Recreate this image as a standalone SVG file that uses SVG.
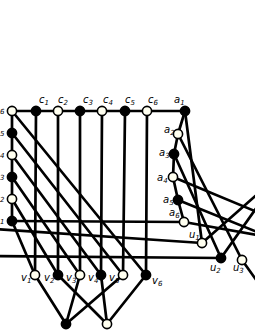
<svg xmlns="http://www.w3.org/2000/svg" width="255" height="330" viewBox="0 0 255 330">
<style>
.e{stroke:#000;stroke-width:2.7;fill:none;stroke-linecap:round}
.w{fill:#fffff0;stroke:#000;stroke-width:1.6}
.b{fill:#000;stroke:#000;stroke-width:1.6}
text{font-family:"DejaVu Sans",sans-serif;font-style:italic;font-size:10px;fill:#000}
.s{font-size:7px}
</style>
<rect width="255" height="330" fill="#fff"/>
<g id="edges">
<line class="e" x1="12" y1="111" x2="185" y2="111"/>
<line class="e" x1="12" y1="111" x2="12" y2="221"/>
<line class="e" x1="36" y1="111" x2="35" y2="275"/>
<line class="e" x1="58" y1="111" x2="58" y2="275"/>
<line class="e" x1="80" y1="111" x2="80" y2="275"/>
<line class="e" x1="102" y1="111" x2="101" y2="275"/>
<line class="e" x1="125" y1="111" x2="123" y2="275"/>
<line class="e" x1="147" y1="111" x2="146" y2="275"/>
<line class="e" x1="12" y1="111" x2="146" y2="275"/>
<line class="e" x1="12" y1="133" x2="123" y2="275"/>
<line class="e" x1="12" y1="155" x2="101" y2="275"/>
<line class="e" x1="12" y1="177" x2="80" y2="275"/>
<line class="e" x1="12" y1="199" x2="58" y2="275"/>
<line class="e" x1="12" y1="221" x2="35" y2="275"/>
<line class="e" x1="35" y1="275" x2="66" y2="324"/>
<line class="e" x1="80" y1="275" x2="66" y2="324"/>
<line class="e" x1="123" y1="275" x2="66" y2="324"/>
<line class="e" x1="58" y1="275" x2="107" y2="324"/>
<line class="e" x1="101" y1="275" x2="107" y2="324"/>
<line class="e" x1="146" y1="275" x2="107" y2="324"/>
<line class="e" x1="12" y1="221" x2="184" y2="222"/>
<line class="e" x1="-5" y1="229" x2="202" y2="243"/>
<line class="e" x1="-5" y1="256" x2="221" y2="258"/>
<line class="e" x1="185" y1="111" x2="178" y2="134"/>
<line class="e" x1="178" y1="134" x2="174" y2="154"/>
<line class="e" x1="174" y1="154" x2="173" y2="177"/>
<line class="e" x1="173" y1="177" x2="178" y2="200"/>
<line class="e" x1="178" y1="200" x2="184" y2="222"/>
<line class="e" x1="185" y1="111" x2="202" y2="243"/>
<line class="e" x1="178" y1="134" x2="242" y2="260"/>
<line class="e" x1="174" y1="154" x2="221" y2="258"/>
<line class="e" x1="173" y1="177" x2="262" y2="214"/>
<line class="e" x1="178" y1="200" x2="262" y2="234"/>
<line class="e" x1="184" y1="222" x2="262" y2="236"/>
<line class="e" x1="202" y1="243" x2="262" y2="190"/>
<line class="e" x1="221" y1="258" x2="262" y2="200"/>
<line class="e" x1="242" y1="260" x2="262" y2="288"/>
</g>
<g id="b6"><circle class="w" cx="12" cy="111" r="4.6"/><text class="s" x="0" y="114">6</text></g>
<g id="b5"><circle class="b" cx="12" cy="133" r="4.6"/><text class="s" x="0" y="136">5</text></g>
<g id="b4"><circle class="w" cx="12" cy="155" r="4.6"/><text class="s" x="0" y="158">4</text></g>
<g id="b3"><circle class="b" cx="12" cy="177" r="4.6"/><text class="s" x="0" y="180">3</text></g>
<g id="b2"><circle class="w" cx="12" cy="199" r="4.6"/><text class="s" x="0" y="202">2</text></g>
<g id="b1"><circle class="b" cx="12" cy="221" r="4.6"/><text class="s" x="0" y="224">1</text></g>
<g id="c1"><circle class="b" cx="36" cy="111" r="4.6"/><text x="39" y="103">c<tspan class="s" dy="2">1</tspan></text></g>
<g id="c2"><circle class="w" cx="58" cy="111" r="4.6"/><text x="58" y="103">c<tspan class="s" dy="2">2</tspan></text></g>
<g id="c3"><circle class="b" cx="80" cy="111" r="4.6"/><text x="83" y="103">c<tspan class="s" dy="2">3</tspan></text></g>
<g id="c4"><circle class="w" cx="102" cy="111" r="4.6"/><text x="103" y="103">c<tspan class="s" dy="2">4</tspan></text></g>
<g id="c5"><circle class="b" cx="125" cy="111" r="4.6"/><text x="125" y="103">c<tspan class="s" dy="2">5</tspan></text></g>
<g id="c6"><circle class="w" cx="147" cy="111" r="4.6"/><text x="148" y="103">c<tspan class="s" dy="2">6</tspan></text></g>
<g id="a1"><circle class="b" cx="185" cy="111" r="4.6"/><text x="174" y="103">a<tspan class="s" dy="2">1</tspan></text></g>
<g id="a2"><circle class="w" cx="178" cy="134" r="4.6"/><text x="164" y="133">a<tspan class="s" dy="2">2</tspan></text></g>
<g id="a3"><circle class="b" cx="174" cy="154" r="4.6"/><text x="159" y="156">a<tspan class="s" dy="2">3</tspan></text></g>
<g id="a4"><circle class="w" cx="173" cy="177" r="4.6"/><text x="157" y="181">a<tspan class="s" dy="2">4</tspan></text></g>
<g id="a5"><circle class="b" cx="178" cy="200" r="4.6"/><text x="163" y="203">a<tspan class="s" dy="2">5</tspan></text></g>
<g id="a6"><circle class="w" cx="184" cy="222" r="4.6"/><text x="169" y="216">a<tspan class="s" dy="2">6</tspan></text></g>
<g id="u1"><circle class="w" cx="202" cy="243" r="4.6"/><text x="189" y="238">u<tspan class="s" dy="2">1</tspan></text></g>
<g id="u2"><circle class="b" cx="221" cy="258" r="4.6"/><text x="210" y="271">u<tspan class="s" dy="2">2</tspan></text></g>
<g id="u3"><circle class="w" cx="242" cy="260" r="4.6"/><text x="233" y="271">u<tspan class="s" dy="2">3</tspan></text></g>
<g id="v1"><circle class="w" cx="35" cy="275" r="4.6"/><text x="21" y="281">v<tspan class="s" dy="2">1</tspan></text></g>
<g id="v2"><circle class="b" cx="58" cy="275" r="4.6"/><text x="44" y="281">v<tspan class="s" dy="2">2</tspan></text></g>
<g id="v3"><circle class="w" cx="80" cy="275" r="4.6"/><text x="66" y="281">v<tspan class="s" dy="2">3</tspan></text></g>
<g id="v4"><circle class="b" cx="101" cy="275" r="4.6"/><text x="88" y="281">v<tspan class="s" dy="2">4</tspan></text></g>
<g id="v5"><circle class="w" cx="123" cy="275" r="4.6"/><text x="109" y="281">v<tspan class="s" dy="2">5</tspan></text></g>
<g id="v6"><circle class="b" cx="146" cy="275" r="4.6"/><text x="152" y="284">v<tspan class="s" dy="2">6</tspan></text></g>
<g id="w1"><circle class="b" cx="66" cy="324" r="4.6"/></g>
<g id="w2"><circle class="w" cx="107" cy="324" r="4.6"/></g>
</svg>
